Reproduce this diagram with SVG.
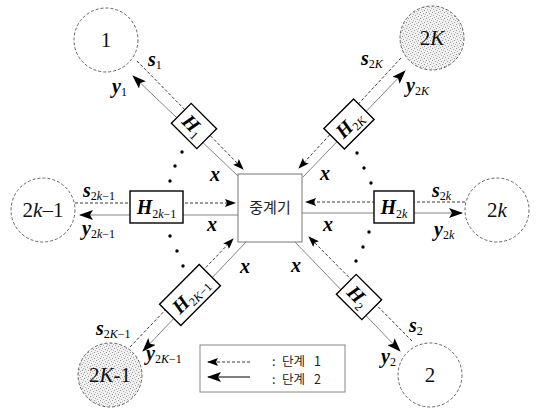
<svg xmlns="http://www.w3.org/2000/svg" width="537" height="414" viewBox="0 0 537 414">
  <defs>
    <style>
      .circ { fill: #ffffff; stroke: #555; stroke-width: 0.9; stroke-dasharray: 3 2; }
      .shade { fill: url(#stipple); }
      .dash { fill: none; stroke: #222; stroke-width: 0.9; stroke-dasharray: 3 2; }
      .solid { fill: none; stroke: #777; stroke-width: 0.9; }
      .hbox { fill: #ffffff; stroke: #000; stroke-width: 1.4; }
      .relay { fill: #ffffff; stroke: #777; stroke-width: 1; }
      .num { font-family: "Liberation Serif", "DejaVu Serif", serif; font-size: 21px; fill: #111; }
      .m { font-family: "Liberation Serif", "DejaVu Serif", serif; font-size: 20px; font-weight: bold; font-style: italic; fill: #000; }
      .sub { font-size: 12px; font-weight: normal; font-style: normal; }
      .it { font-style: italic; }
      .ko { font-family: "Noto Sans CJK KR", "Noto Sans", sans-serif; font-size: 12.5px; fill: #222; }
      .relay-label { font-size: 15px; }
      .dot { fill: #000; }
    </style>
    <pattern id="stipple" width="6" height="6" patternUnits="userSpaceOnUse">
      <rect width="6" height="6" fill="#f0f0f0"/>
      <rect x="0" y="0" width="1" height="1" fill="#999"/>
      <rect x="3" y="1" width="1" height="1" fill="#aaa"/>
      <rect x="1" y="3" width="1" height="1" fill="#aaa"/>
      <rect x="4" y="4" width="1" height="1" fill="#999"/>
      <rect x="5" y="2" width="1" height="1" fill="#bbb"/>
      <rect x="2" y="5" width="1" height="1" fill="#bbb"/>
    </pattern>
    <marker id="ahBig" markerWidth="14" markerHeight="10" refX="13" refY="5" orient="auto" markerUnits="userSpaceOnUse">
      <path d="M0,0 L14,5 L0,10 L3,5 Z" fill="#000"/>
    </marker>
    <marker id="ahSmall" markerWidth="11" markerHeight="8" refX="10" refY="4" orient="auto" markerUnits="userSpaceOnUse">
      <path d="M0,0 L11,4 L0,8 L2,4 Z" fill="#000"/>
    </marker>
  </defs>

  <rect width="537" height="414" fill="#ffffff"/>

  <!-- connectors: dashed = phase 1 (to relay), solid = phase 2 (from relay) -->
  <g id="connectors">
    <!-- branch 1 -->
    <line class="dash" x1="137" y1="61" x2="243" y2="169" marker-end="url(#ahSmall)"/>
    <line class="solid" x1="238" y1="176" x2="133" y2="76" marker-end="url(#ahBig)"/>
    <!-- branch 2K -->
    <line class="dash" x1="401" y1="58" x2="299" y2="168" marker-end="url(#ahSmall)"/>
    <line class="solid" x1="303" y1="177" x2="405" y2="71" marker-end="url(#ahBig)"/>
    <!-- branch 2k-1 -->
    <line class="dash" x1="75" y1="203" x2="235" y2="203" marker-end="url(#ahSmall)"/>
    <line class="solid" x1="238" y1="215" x2="80" y2="215" marker-end="url(#ahBig)"/>
    <!-- branch 2k -->
    <line class="dash" x1="465" y1="202" x2="306" y2="202" marker-end="url(#ahSmall)"/>
    <line class="solid" x1="302" y1="213" x2="462" y2="213" marker-end="url(#ahBig)"/>
    <!-- branch 2K-1 -->
    <line class="dash" x1="130" y1="347" x2="233" y2="239" marker-end="url(#ahSmall)"/>
    <line class="solid" x1="246" y1="242" x2="143" y2="351" marker-end="url(#ahBig)"/>
    <!-- branch 2 -->
    <line class="dash" x1="412" y1="341" x2="309" y2="237" marker-end="url(#ahSmall)"/>
    <line class="solid" x1="295" y1="242" x2="400" y2="351" marker-end="url(#ahBig)"/>
  </g>

  <!-- ellipsis dots between branches -->
  <g id="ellipses">
    <circle class="dot" cx="182" cy="152" r="1.7"/>
    <circle class="dot" cx="175" cy="166" r="1.7"/>
    <circle class="dot" cx="170" cy="181" r="1.7"/>
    <circle class="dot" cx="170" cy="236" r="1.7"/>
    <circle class="dot" cx="177" cy="251" r="1.7"/>
    <circle class="dot" cx="183" cy="266" r="1.7"/>
    <circle class="dot" cx="357" cy="153" r="1.7"/>
    <circle class="dot" cx="364" cy="168" r="1.7"/>
    <circle class="dot" cx="371" cy="183" r="1.7"/>
    <circle class="dot" cx="369" cy="232" r="1.7"/>
    <circle class="dot" cx="363" cy="247" r="1.7"/>
    <circle class="dot" cx="356" cy="261" r="1.7"/>
  </g>

  <!-- relay -->
  <g id="relay">
    <rect class="relay" x="238" y="174" width="64" height="68"/>
    <text class="ko relay-label" x="270" y="213" text-anchor="middle">중계기</text>
  </g>

  <!-- user nodes -->
  <g id="node-1">
    <circle class="circ" cx="106" cy="40" r="32"/>
    <text class="num" x="106" y="47" text-anchor="middle">1</text>
  </g>
  <g id="node-2K">
    <circle class="circ shade" cx="432" cy="38" r="32"/>
    <text class="num" x="432" y="45" text-anchor="middle">2<tspan class="it">K</tspan></text>
  </g>
  <g id="node-2k-1">
    <circle class="circ" cx="43" cy="210" r="32"/>
    <text class="num" x="43" y="217" text-anchor="middle">2<tspan class="it">k</tspan>–1</text>
  </g>
  <g id="node-2k">
    <circle class="circ" cx="497" cy="210" r="32"/>
    <text class="num" x="497" y="217" text-anchor="middle">2<tspan class="it">k</tspan></text>
  </g>
  <g id="node-2K-1">
    <circle class="circ shade" cx="110" cy="375" r="32"/>
    <text class="num" x="110" y="382" text-anchor="middle">2<tspan class="it">K</tspan>-1</text>
  </g>
  <g id="node-2">
    <circle class="circ" cx="430" cy="375" r="32"/>
    <text class="num" x="430" y="382" text-anchor="middle">2</text>
  </g>

  <!-- channel blocks -->
  <g id="H1" transform="translate(194,126) rotate(45)">
    <rect class="hbox" x="-18" y="-14" width="36" height="28"/>
    <text class="m" x="-1" y="7" text-anchor="middle">H<tspan class="sub" dy="4">1</tspan></text>
  </g>
  <g id="H2K" transform="translate(349,124) rotate(-45)">
    <rect class="hbox" x="-21" y="-14.5" width="42" height="29"/>
    <text class="m" x="0" y="7" text-anchor="middle">H<tspan class="sub" dy="4">2<tspan class="it">K</tspan></tspan></text>
  </g>
  <g id="H2K-1" transform="translate(190,295) rotate(-45)">
    <rect class="hbox" x="-28" y="-15" width="56" height="30"/>
    <text class="m" x="0" y="7" text-anchor="middle">H<tspan class="sub" dy="4">2<tspan class="it">K</tspan>−1</tspan></text>
  </g>
  <g id="H2" transform="translate(359,297) rotate(45)">
    <rect class="hbox" x="-18" y="-14" width="36" height="28"/>
    <text class="m" x="-1" y="7" text-anchor="middle">H<tspan class="sub" dy="4">2</tspan></text>
  </g>
  <g id="H2k-1">
    <rect class="hbox" x="130" y="191" width="53" height="32"/>
    <text class="m" x="156.5" y="214" text-anchor="middle">H<tspan class="sub" dy="4">2<tspan class="it">k</tspan>−1</tspan></text>
  </g>
  <g id="H2k">
    <rect class="hbox" x="374" y="191" width="40" height="32"/>
    <text class="m" x="394" y="214" text-anchor="middle">H<tspan class="sub" dy="4">2<tspan class="it">k</tspan></tspan></text>
  </g>

  <!-- signal labels -->
  <g id="labels">
    <text class="m" x="148" y="66">s<tspan class="sub" dy="3">1</tspan></text>
    <text class="m" x="112" y="93">y<tspan class="sub" dy="3">1</tspan></text>
    <text class="m" x="361" y="65">s<tspan class="sub" dy="3">2<tspan class="it">K</tspan></tspan></text>
    <text class="m" x="406" y="92">y<tspan class="sub" dy="3">2<tspan class="it">K</tspan></tspan></text>
    <text class="m" x="83" y="197">s<tspan class="sub" dy="3">2<tspan class="it">k</tspan>−1</tspan></text>
    <text class="m" x="82" y="235">y<tspan class="sub" dy="3">2<tspan class="it">k</tspan>−1</tspan></text>
    <text class="m" x="432" y="197">s<tspan class="sub" dy="3">2<tspan class="it">k</tspan></tspan></text>
    <text class="m" x="434" y="236">y<tspan class="sub" dy="3">2<tspan class="it">k</tspan></tspan></text>
    <text class="m" x="96" y="335">s<tspan class="sub" dy="3">2<tspan class="it">K</tspan>−1</tspan></text>
    <text class="m" x="146" y="360">y<tspan class="sub" dy="3">2<tspan class="it">K</tspan>−1</tspan></text>
    <text class="m" x="409" y="332">s<tspan class="sub" dy="3">2</tspan></text>
    <text class="m" x="381" y="363">y<tspan class="sub" dy="3">2</tspan></text>
    <text class="m" x="215" y="181" text-anchor="middle">x</text>
    <text class="m" x="212" y="231" text-anchor="middle">x</text>
    <text class="m" x="325" y="180" text-anchor="middle">x</text>
    <text class="m" x="328" y="231" text-anchor="middle">x</text>
    <text class="m" x="245" y="273" text-anchor="middle">x</text>
    <text class="m" x="296" y="272" text-anchor="middle">x</text>
  </g>

  <!-- legend -->
  <g id="legend">
    <rect x="200" y="345" width="145" height="47" fill="#ffffff" stroke="#888" stroke-width="1"/>
    <line class="dash" x1="250" y1="362" x2="208" y2="362" marker-end="url(#ahSmall)"/>
    <line x1="250" y1="377" x2="208" y2="377" stroke="#000" stroke-width="1.2" marker-end="url(#ahBig)"/>
    <text class="ko" x="272" y="366"><tspan>:</tspan><tspan x="282">단계</tspan><tspan x="314">1</tspan></text>
    <text class="ko" x="272" y="384"><tspan>:</tspan><tspan x="282">단계</tspan><tspan x="314">2</tspan></text>
  </g>
</svg>
